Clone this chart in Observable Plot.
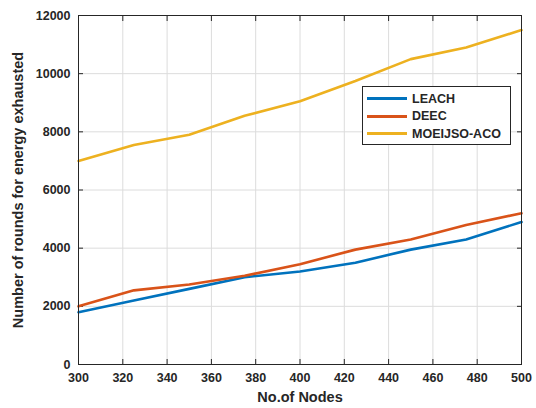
<!DOCTYPE html>
<html>
<head>
<meta charset="utf-8">
<script src="https://cdn.jsdelivr.net/npm/d3@7"></script>
<script src="https://cdn.jsdelivr.net/npm/@observablehq/plot@0.6"></script>
<style>
  html, body { margin: 0; padding: 0; background: #fff; }
  #wrap { position: relative; width: 536px; height: 408px; }
  #legend {
    position: absolute; left: 362px; top: 86px; width: 147px; height: 54px;
    border: 1px solid #262626; background: #fff;
    font-family: "Liberation Sans", Arial, sans-serif; font-weight: bold; font-size: 12.5px; color: #262626;
    padding-top: 3px; box-sizing: content-box;
  }
  .row { display: flex; align-items: center; height: 17.5px; }
  .sw { width: 40px; height: 3px; margin-left: 4px; margin-right: 5px; }
</style>
</head>
<body>
<div id="wrap"></div>
<script>
const nodes = [300, 325, 350, 375, 400, 425, 450, 475, 500];
const seriesNames = ["LEACH", "DEEC", "MOEIJSO-ACO"];
const colors = ["#0072BD", "#D95319", "#EDB120"];
const leach = [1800, 2200, 2600, 3000, 3200, 3500, 3950, 4300, 4900];
const deec = [2000, 2550, 2750, 3050, 3450, 3950, 4300, 4800, 5200];
const moeijso = [7000, 7550, 7900, 8550, 9050, 9750, 10500, 10900, 11500];
const xTicks = [300, 320, 340, 360, 380, 400, 420, 440, 460, 480, 500];
const yTicks = [0, 2000, 4000, 6000, 8000, 10000, 12000];
const xLabel = "No.of Nodes";
const yLabel = "Number of rounds for energy exhausted";

const valuesBySeries = [leach, deec, moeijso];
const data = [];
seriesNames.forEach((s, i) => nodes.forEach((n, j) => data.push({series: s, x: n, y: valuesBySeries[i][j]})));

const ink = "#262626";
const chart = Plot.plot({
  width: 536,
  height: 408,
  marginTop: 15,
  marginRight: 15,
  marginBottom: 44,
  marginLeft: 78,
  style: {fontFamily: "Liberation Sans, Arial, sans-serif", fontSize: "12.5px", fontWeight: "bold", color: ink, background: "#fff"},
  x: {domain: [300, 500]},
  y: {domain: [0, 12000]},
  color: {domain: seriesNames, range: colors},
  marks: [
    Plot.gridX(xTicks, {stroke: "#dcdcdc", strokeOpacity: 1, strokeWidth: 1}),
    Plot.gridY(yTicks, {stroke: "#dcdcdc", strokeOpacity: 1, strokeWidth: 1}),
    Plot.axisX(xTicks, {anchor: "bottom", tickSize: -5, tickPadding: 14, label: null, stroke: ink, fill: ink}),
    Plot.axisX(xTicks, {anchor: "top", tickSize: -5, tickFormat: () => "", label: null, stroke: ink}),
    Plot.axisY(yTicks, {anchor: "left", tickSize: -5, tickPadding: 13, tickFormat: d3.format("d"), label: null, stroke: ink, fill: ink}),
    Plot.axisY(yTicks, {anchor: "right", tickSize: -5, tickFormat: () => "", label: null, stroke: ink}),
    Plot.line(data, {x: "x", y: "y", z: "series", stroke: "series", strokeWidth: 2.6}),
    Plot.frame({stroke: ink, strokeWidth: 1}),
    Plot.text([xLabel], {frameAnchor: "bottom", dy: 37, textAnchor: "middle", fontSize: 14.5, fontWeight: "bold", fill: ink}),
    Plot.text([yLabel], {frameAnchor: "left", dx: -60, rotate: -90, textAnchor: "middle", lineAnchor: "middle", fontSize: 14.5, fontWeight: "bold", fill: ink})
  ]
});
const wrap = document.getElementById("wrap");
wrap.appendChild(chart);
const legend = document.createElement("div");
legend.id = "legend";
seriesNames.forEach((s, i) => {
  const row = document.createElement("div");
  row.className = "row";
  const sw = document.createElement("div");
  sw.className = "sw";
  sw.style.background = colors[i];
  const t = document.createElement("span");
  t.textContent = s;
  row.appendChild(sw);
  row.appendChild(t);
  legend.appendChild(row);
});
wrap.appendChild(legend);
</script>
</body>
</html>
